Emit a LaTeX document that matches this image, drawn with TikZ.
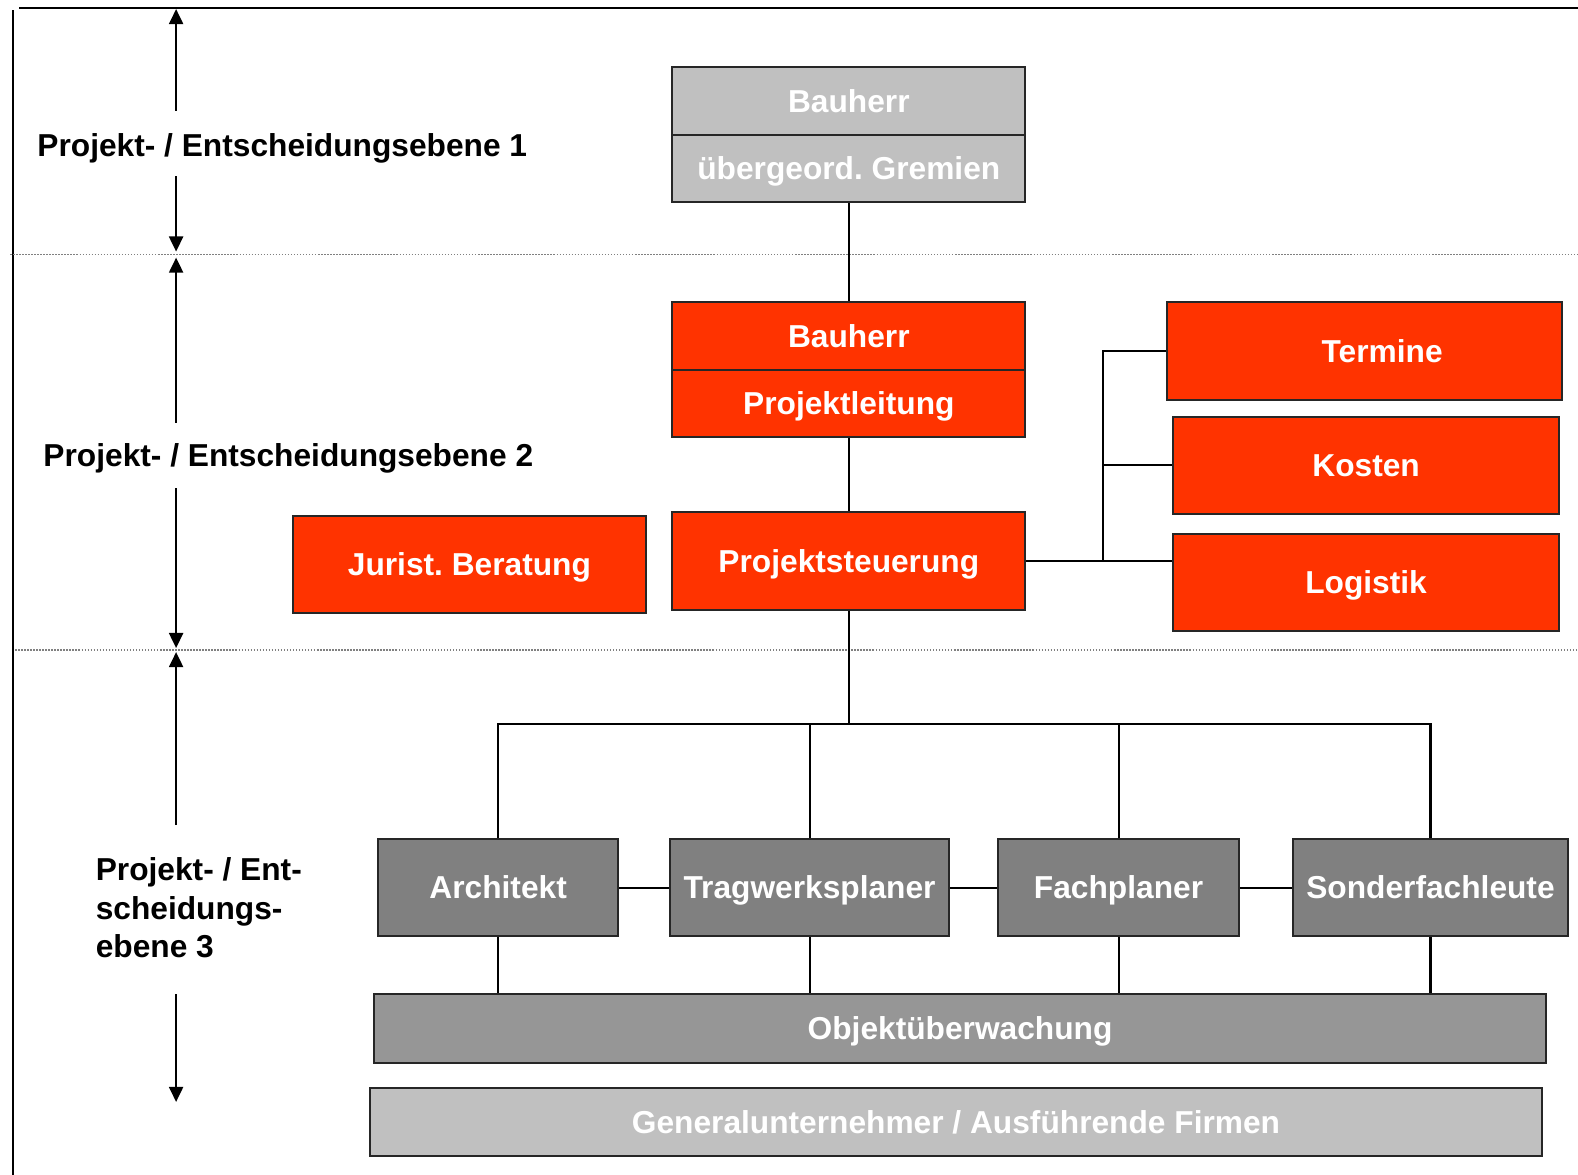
\documentclass[tikz,border=0pt]{standalone}
\usepackage{fontspec}
\setmainfont{Liberation Sans}
\usetikzlibrary{arrows.meta}
\definecolor{rot}{HTML}{FF3300}
\definecolor{hgrau}{HTML}{C0C0C0}
\definecolor{dgrau}{HTML}{808080}
\definecolor{mgrau}{HTML}{969696}
\frenchspacing
\begin{document}
\begin{tikzpicture}[x=1pt,y=-1pt,
  every node/.style={font=\fontsize{31.5}{38}\selectfont\bfseries},
  box/.style={draw=black!85, line width=2pt, inner sep=0pt, text=white, anchor=center, text height=22.5pt, text depth=0pt},
  redbox/.style={box, fill=rot},
  lgbox/.style={box, fill=hgrau},
  dgbox/.style={box, fill=dgrau},
  mgbox/.style={box, fill=mgrau},
  conn/.style={line width=2pt, black},
  arr/.style={line width=2pt, -{Triangle[width=14pt,length=15pt]}},
  sep/.style={line width=1.2pt, gray, dash pattern=on 1.5pt off 1.5pt},
  lvl/.style={text=black, anchor=base west, inner sep=0pt}
]
\useasboundingbox (0,0) rectangle (1568.1,1167.6);
% frame
\draw[line width=1.5pt] (19,8) -- (1578,8);
\draw[line width=2pt] (13,10) -- (13,1175);
\draw[sep] (10,253) -- (1578,253);
\draw[sep] (15,646) -- (1578,646);

% level labels and arrows
\node[lvl] (l1) at (37,155.5) {Projekt- / Entscheidungsebene 1};
\node[lvl] (l2) at (43,463.5) {Projekt- / Entscheidungsebene 2};
\node[lvl, anchor=west, align=left] (l3) at (95,902) {Projekt- / Ent-\\scheidungs-\\ebene 3};
\coordinate (a1s) at (175,110); \coordinate (a1e) at (175,9);
\coordinate (a2s) at (175,175); \coordinate (a2e) at (175,250);
\coordinate (a3s) at (175,420); \coordinate (a3e) at (175,256);
\coordinate (a4s) at (175,485); \coordinate (a4e) at (175,644);
\coordinate (a5s) at (175,820); \coordinate (a5e) at (175,648);
\coordinate (a6s) at (175,988); \coordinate (a6e) at (175,1095);
\draw[arr] (a1s) -- (a1e);
\draw[arr] (a2s) -- (a2e);
\draw[arr] (a3s) -- (a3e);
\draw[arr] (a4s) -- (a4e);
\draw[arr] (a5s) -- (a5e);
\draw[arr] (a6s) -- (a6e);

% boxes
\node[lgbox, minimum width=351pt, minimum height=67pt] (gb1) at (843.5,100.5) {Bauherr};
\node[lgbox, minimum width=351pt, minimum height=67pt] (gb2) at (843.5,167.5) {übergeord. Gremien};
\node[redbox, minimum width=351pt, minimum height=68pt] (rb1) at (843.5,334) {Bauherr};
\node[redbox, minimum width=351pt, minimum height=66pt] (rb2) at (843.5,401) {Projektleitung};
\node[redbox, minimum width=351pt, minimum height=97pt] (ps) at (843.5,557.5) {Projektsteuerung};
\node[redbox, minimum width=351pt, minimum height=96pt] (jb) at (466.5,561) {Jurist. Beratung};
\node[redbox, minimum width=392pt, minimum height=97pt] (term) at (1356,348.5) {\hspace*{35pt}Termine};
\node[redbox, minimum width=383pt, minimum height=97pt] (kost) at (1357.5,462.5) {Kosten};
\node[redbox, minimum width=383pt, minimum height=96pt] (log) at (1357.5,579) {Logistik};
\node[dgbox, minimum width=238pt, minimum height=96pt] (arch) at (495,882) {Architekt};
\node[dgbox, minimum width=277pt, minimum height=96pt] (trag) at (804.5,882) {Tragwerksplaner};
\node[dgbox, minimum width=239pt, minimum height=96pt] (fach) at (1111.5,882) {Fachplaner};
\node[dgbox, minimum width=273pt, minimum height=96pt] (sond) at (1421.5,882) {Sonderfachleute};
\node[mgbox, minimum width=1164pt, minimum height=68pt] (obj) at (954,1022) {Objektüberwachung};
\node[lgbox, minimum width=1164pt, minimum height=68pt] (gen) at (950,1115) {Generalunternehmer / Ausführende Firmen};

% connectors
\draw[conn] (gb2.south) -- (rb1.north);
\draw[conn] (rb2.south) -- (ps.north);
\coordinate (bus) at (843.5,719);
\draw[conn] (ps.south) -- (bus);
\draw[conn] (arch.north) |- (bus) -| (sond.north);
\draw[conn] (trag.north) -- (trag.north |- bus);
\draw[conn] (fach.north) -- (fach.north |- bus);
\draw[conn] (arch.east) -- (trag.west);
\draw[conn] (trag.east) -- (fach.west);
\draw[conn] (fach.east) -- (sond.west);
\draw[conn] (arch.south) -- (arch.south |- obj.north);
\draw[conn] (trag.south) -- (trag.south |- obj.north);
\draw[conn] (fach.south) -- (fach.south |- obj.north);
\draw[conn] (sond.south) -- (sond.south |- obj.north);
\coordinate (jn) at (1096,557.5);
\draw[conn] (ps.east) -- (ps.east -| log.west);
\draw[conn] (jn) |- (term.west);
\draw[conn] (jn |- kost.west) -- (kost.west);
\end{tikzpicture}
\end{document}
